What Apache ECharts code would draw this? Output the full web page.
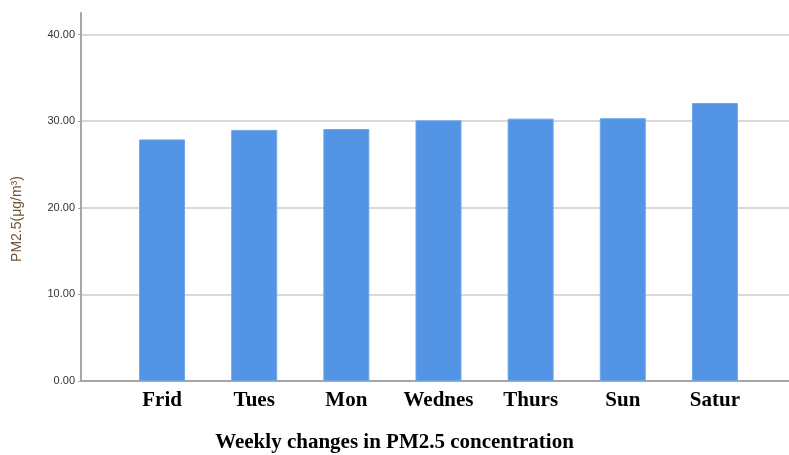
<!DOCTYPE html>
<html>
<head>
<meta charset="utf-8">
<script src="https://cdn.jsdelivr.net/npm/echarts@6/dist/echarts.min.js"></script>
<style>html,body{margin:0;padding:0;background:#fff}#c{width:789px;height:455px}</style>
</head>
<body>
<div id="c"></div>
<script>
var categories = ['Frid', 'Tues', 'Mon', 'Wednes', 'Thurs', 'Sun', 'Satur'];
var pm25Values = [27.9, 29.0, 29.1, 30.1, 30.3, 30.35, 32.1];
var yTickValues = [0, 10, 20, 30, 40];
var titleText = 'Weekly changes in PM2.5 concentration';
var yAxisTitle = 'PM2.5(μg/m³)';

var chart = echarts.init(document.getElementById('c'));
var Y_MAX = 42.5;
chart.setOption({
  animation: false,
  backgroundColor: '#fff',
  title: {
    text: titleText,
    left: 'center',
    top: 427,
    textStyle: { fontFamily: '"Liberation Serif", "Times New Roman", serif', fontWeight: 'bold', fontSize: 21, color: '#000' }
  },
  graphic: [{
    type: 'text',
    x: 17, y: 219,
    rotation: Math.PI / 2,
    style: {
      text: yAxisTitle,
      fontFamily: 'Arial, "Liberation Sans", sans-serif',
      fontSize: 14,
      fill: '#6e5636',
      align: 'center',
      verticalAlign: 'middle'
    }
  }],
  grid: [
    { left: 81, right: 0, top: 13, bottom: 74 },
    { left: 116, right: 28, top: 13, bottom: 74 }
  ],
  xAxis: [
    { type: 'category', gridIndex: 0, data: [''],
      axisLine: { show: true, lineStyle: { color: '#a6a6a6', width: 2 } },
      axisTick: { show: false }, axisLabel: { show: false }, splitLine: { show: false } },
    { type: 'category', gridIndex: 1, data: categories,
      axisLine: { show: false }, axisTick: { show: false },
      axisLabel: { margin: 9, fontFamily: '"Liberation Serif", "Times New Roman", serif', fontWeight: 'bold', fontSize: 21, color: '#000' } }
  ],
  yAxis: [
    { type: 'value', gridIndex: 0, min: 0, max: Y_MAX, interval: 10,
      axisLine: { show: true, lineStyle: { color: '#a6a6a6', width: 2 } },
      axisTick: { show: true, length: 3, lineStyle: { color: '#a6a6a6' } },
      axisLabel: { showMaxLabel: false, margin: 6, fontFamily: 'Arial, "Liberation Sans", sans-serif', fontSize: 11, color: '#333',
        formatter: function (v) { return yTickValues.indexOf(v) >= 0 ? v.toFixed(2) : ''; } },
      splitLine: { show: true, showMaxLine: false, lineStyle: { color: '#d9d9d9', width: 2 } } },
    { type: 'value', gridIndex: 1, min: 0, max: Y_MAX, interval: 10, show: false, splitLine: { show: false } }
  ],
  series: [{
    type: 'bar',
    xAxisIndex: 1, yAxisIndex: 1,
    data: pm25Values,
    barWidth: 46,
    itemStyle: { color: '#5494e4', borderColor: '#6ea6ec', borderWidth: 1 }
  }]
});
</script>
</body>
</html>
